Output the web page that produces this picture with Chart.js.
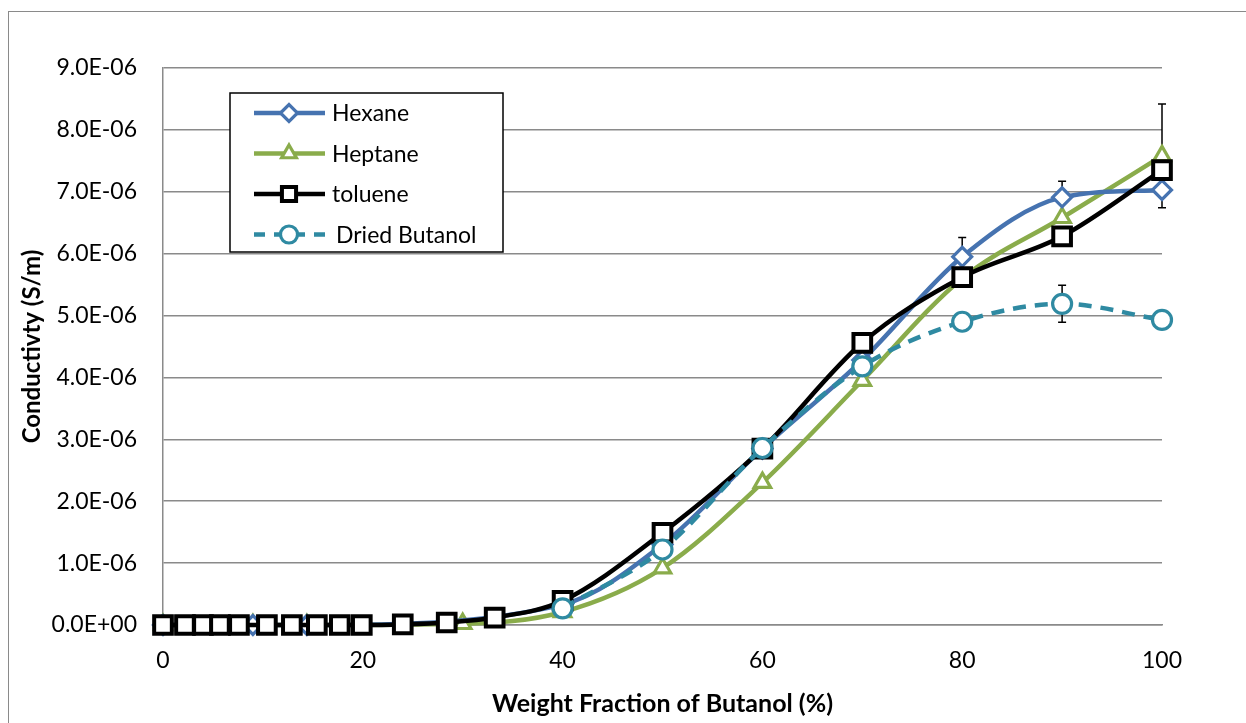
<!DOCTYPE html>
<html>
<head>
<meta charset="utf-8">
<script src="https://cdn.jsdelivr.net/npm/chart.js@4.4.0/dist/chart.umd.min.js"></script>
<style>
  body { margin: 0; background: #fff; overflow: hidden; }
  #wrap { position: relative; width: 1246px; height: 723px; }
  #frame { position: absolute; left: 8px; top: 11px; width: 1300px; height: 800px; border: 1px solid #8a8a8a; }
  canvas { position: absolute; left: 0; top: 0; }
</style>
</head>
<body>
<div id="wrap">
  <div id="frame"></div>
  <canvas id="myChart" width="1246" height="723"></canvas>
</div>
<script>
// values in units of 1E-06 S/m
var hexaneX = [0, 9, 14.4, 40, 50, 60, 70, 80, 90, 100];
var hexaneY = [0, 0, 0, 0.33, 1.30, 2.85, 4.28, 5.95, 6.91, 7.03];
var hexaneErr = [0, 0, 0, 0, 0, 0, 0, 0.31, 0.26, 0];

var heptaneX = [0, 9, 14.4, 30, 40, 50, 60, 70, 80, 90, 100];
var heptaneY = [0, 0, 0, 0.02, 0.21, 0.92, 2.30, 3.95, 5.60, 6.58, 7.58];
var heptaneErr = [0, 0, 0, 0, 0, 0, 0, 0, 0, 0, 0.84];

var tolueneX = [0, 2.2, 4, 5.7, 7.6, 10.4, 12.9, 15.4, 17.7, 19.9, 24, 28.4, 33.2, 40, 50, 60, 70, 80, 90, 100];
var tolueneY = [0, 0, 0, 0, 0, 0, 0, 0, 0, 0, 0.01, 0.04, 0.12, 0.39, 1.49, 2.85, 4.56, 5.62, 6.28, 7.35];

var butanolX = [40, 50, 60, 70, 80, 90, 100];
var butanolY = [0.27, 1.22, 2.86, 4.18, 4.90, 5.19, 4.93];
var butanolErr = [0, 0, 0, 0, 0, 0.30, 0];

var xTicks = [0, 20, 40, 60, 80, 100];
var yMax = 9e-6;

var FONT = "Lato, 'Open Sans', sans-serif";

function pts(xs, ys) {
  return xs.map(function (x, i) { return { x: x, y: ys[i] * 1e-6 }; });
}

function sci(v) {
  if (Math.abs(v) < 1e-12) return "0.0E+00";
  var e = Math.floor(Math.log10(Math.abs(v)) + 1e-9);
  var m = v / Math.pow(10, e);
  return m.toFixed(1) + "E" + (e < 0 ? "-" : "+") + String(Math.abs(e)).padStart(2, "0");
}

var series = [
  { label: "Hexane", xs: hexaneX, ys: hexaneY, err: hexaneErr, color: "#4673b0", style: "rectRot", radius: 9.5, dash: [], order: 2 },
  { label: "Heptane", xs: heptaneX, ys: heptaneY, err: heptaneErr, color: "#8aac4b", style: "triangle", radius: 9.5, dash: [], order: 3 },
  { label: "toluene", xs: tolueneX, ys: tolueneY, err: null, color: "#000000", style: "rect", radius: 12.5, dash: [], order: 1 },
  { label: "Dried Butanol", xs: butanolX, ys: butanolY, err: butanolErr, color: "#2f8aa2", style: "circle", radius: 9.5, dash: [13, 9], order: 0 }
];

var errorBars = {
  id: "errorBars",
  beforeDatasetsDraw: function (chart) {
    var c = chart.ctx, xs = chart.scales.x, ys = chart.scales.y;
    c.save();
    c.strokeStyle = "#000";
    c.lineWidth = 1.5;
    series.forEach(function (s) {
      if (!s.err) return;
      s.err.forEach(function (e, i) {
        if (!e) return;
        var px = xs.getPixelForValue(s.xs[i]);
        var t = ys.getPixelForValue((s.ys[i] + e) * 1e-6);
        var b = ys.getPixelForValue((s.ys[i] - e) * 1e-6);
        c.beginPath();
        c.moveTo(px, t); c.lineTo(px, b);
        c.moveTo(px - 4, t); c.lineTo(px + 4, t);
        c.moveTo(px - 4, b); c.lineTo(px + 4, b);
        c.stroke();
      });
    });
    c.restore();
  }
};

var boxLegend = {
  id: "boxLegend",
  afterDraw: function (chart) {
    var c = chart.ctx, a = chart.chartArea;
    var left = a.left + 67, top = a.top + 25, w = 273, h = 159;
    c.save();
    c.fillStyle = "#fff";
    c.fillRect(left, top, w, h);
    c.strokeStyle = "#000";
    c.lineWidth = 1.5;
    c.strokeRect(left, top, w, h);
    c.font = "23px " + FONT;
    c.textBaseline = "middle";
    series.forEach(function (s, i) {
      var y = top + 20 + i * 40.5;
      c.strokeStyle = s.color;
      c.lineWidth = 4.5;
      c.setLineDash(s.dash.length ? [11, 9] : []);
      c.beginPath();
      c.moveTo(left + 24, y);
      c.lineTo(left + 95, y);
      c.stroke();
      c.setLineDash([]);
      c.fillStyle = "#fff";
      var bw = s.style === "rect" ? 4 : 3.2;
      c.lineWidth = bw;
      Chart.helpers.drawPoint(c, { pointStyle: s.style, radius: s.style === "rect" ? 10 : s.radius - 1, rotation: 0, borderWidth: bw }, left + 59, y);
      c.fillStyle = "#000";
      c.fillText(s.label, left + (s.dash.length ? 106 : 102), y + 1);
    });
    c.restore();
  }
};

var ctx = document.getElementById("myChart");
var chart = new Chart(ctx, {
  type: "scatter",
  data: {
    datasets: series.map(function (s) {
      return {
        label: s.label,
        data: pts(s.xs, s.ys),
        showLine: true,
        cubicInterpolationMode: "monotone",
        clip: false,
        borderColor: s.color,
        borderWidth: 4.5,
        borderDash: s.dash,
        pointStyle: s.style,
        pointRadius: s.radius,
        pointBorderWidth: s.style === "rect" ? 4 : 3.2,
        pointBackgroundColor: "#fff",
        pointBorderColor: s.color,
        order: s.order
      };
    })
  },
  options: {
    responsive: false,
    animation: false,
    events: [],
    layout: { padding: { left: 14, right: 84, top: 68, bottom: 0 } },
    plugins: {
      legend: { display: false },
      tooltip: { enabled: false }
    },
    scales: {
      x: {
        type: "linear",
        min: 0,
        max: 100,
        afterBuildTicks: function (scale) {
          scale.ticks = xTicks.map(function (v) { return { value: v }; });
        },
        afterFit: function (scale) { scale.height = 98; },
        grid: { display: false, drawTicks: false },
        border: { display: true, color: "#8a8a8a", width: 1.5 },
        ticks: { color: "#000", font: { family: FONT, size: 23 }, padding: 22, maxRotation: 0 },
        title: { display: true, text: "Weight Fraction of Butanol (%)", color: "#000", font: { family: FONT, size: 25, weight: "bold" }, padding: { top: 2 } }
      },
      y: {
        min: 0,
        max: yMax,
        afterBuildTicks: function (scale) {
          var t = [];
          for (var i = 0; i <= 9; i++) t.push({ value: i * 1e-6 });
          scale.ticks = t;
        },
        afterFit: function (scale) { scale.width = 149; },
        grid: { color: "#8a8a8a", lineWidth: 1.5, drawTicks: false },
        border: { display: true, color: "#8a8a8a", width: 1.5 },
        ticks: { color: "#000", font: { family: FONT, size: 23 }, padding: 26, callback: function (v) { return sci(v); } },
        title: { display: true, text: "Conductivty (S/m)", color: "#000", font: { family: FONT, size: 24, weight: "bold" }, padding: { top: 4, bottom: 0 } }
      }
    }
  },
  plugins: [errorBars, boxLegend]
});
</script>
</body>
</html>
